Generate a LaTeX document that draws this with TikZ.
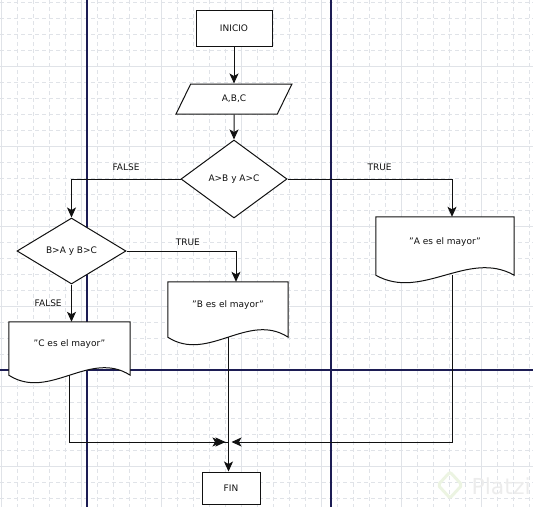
\documentclass[tikz,border=0pt]{standalone}
\usepackage{fontspec}
\setmainfont{DejaVu Sans}
\usetikzlibrary{shapes.geometric, arrows.meta, calc}
\definecolor{gridgray}{RGB}{224,227,232}
\definecolor{lanenavy}{RGB}{28,28,84}
\definecolor{textdark}{RGB}{17,17,17}
\definecolor{markgray}{RGB}{236,236,236}
\definecolor{markgreen}{RGB}{236,244,226}

\pgfdeclarelayer{grid}
\pgfdeclarelayer{outline}
\pgfsetlayers{grid,outline,main}

% document outline with a wavy bottom, drawn under the node text
\newcommand{\docoutline}[1]{%
  \begin{pgfonlayer}{outline}
    \draw[draw=textdark, fill=white, line width=1pt] (#1.south east) -- (#1.north east) -- (#1.north west) -- (#1.south west)
      .. controls ($(#1.south west)!0.333!(#1.south east)+(0,26)$) and ($(#1.south west)!0.667!(#1.south east)+(0,-26)$) .. (#1.south east) -- cycle;
  \end{pgfonlayer}}

\begin{document}
\begin{tikzpicture}[
    x=1pt, y=-1pt,
    every node/.style={font=\fontsize{9}{11}\selectfont, text=textdark},
    terminal/.style={rectangle, draw=textdark, fill=white, line width=1pt, minimum width=58pt, minimum height=32pt},
    inout/.style={trapezium, trapezium left angle=70, trapezium right angle=110, trapezium stretches=true, draw=textdark, fill=white, line width=1pt, minimum width=116pt, minimum height=30pt},
    decision/.style={diamond, draw=textdark, fill=white, line width=1pt, inner sep=0pt},
    document/.style={rectangle, inner sep=0pt, text depth=10pt},
    arrow/.style={-{Stealth[length=10pt, width=9pt, inset=2.5pt]}, line width=1pt, color=textdark},
    edgelabel/.style={font=\fontsize{9}{11}\selectfont, text=textdark}
]
\useasboundingbox (0,0) rectangle (533,507);

% Grid
\begin{pgfonlayer}{grid}
\foreach \gx in {1,17,...,529} \draw[gridgray, line width=0.6pt, dash pattern=on 4pt off 3pt] (\gx,0) -- (\gx,507);
\foreach \gy in {2,18,...,506} \draw[gridgray, line width=0.6pt, dash pattern=on 4pt off 3pt] (0,\gy) -- (533,\gy);
\foreach \gx in {1,81,...,481} \draw[gridgray, line width=0.6pt] (\gx,0) -- (\gx,507);
\foreach \gy in {66,146,...,466} \draw[gridgray, line width=0.6pt] (0,\gy) -- (533,\gy);

% Lanes
\draw[lanenavy, line width=1.2pt] (87,0) -- (87,507);
\draw[lanenavy, line width=1.2pt] (331,0) -- (331,507);
\draw[lanenavy, line width=1.2pt] (0,370) -- (533,370);

% Watermark
\draw[markgreen, line width=3pt, rounded corners=2pt] (450,472) -- (462,485) -- (450,498) -- (438,485) -- cycle;
\node[anchor=base west, text=markgray, font=\fontsize{22}{22}\selectfont] (brand) at (468,494) {Platzi};
\end{pgfonlayer}

% Start
\node[terminal, minimum width=76pt, minimum height=36pt] (start) at (234,28) {INICIO};

% Input
\node[inout] (abc) at (234,99) {A,B,C};

% Decisions
\node[decision, minimum width=106pt, minimum height=78pt] (cmpA) at (234,179) {A>B y A>C};
\node[decision, minimum width=109pt, minimum height=66pt] (cmpB) at (71.5,251) {B>A y B>C};

% Outputs
\node[document, minimum width=138pt, minimum height=58pt] (docA) at (445,246) {"A es el mayor"};
\node[document, minimum width=120pt, minimum height=55pt] (docB) at (228,309.5) {"B es el mayor"};
\node[document, minimum width=121pt, minimum height=53pt] (docC) at (69.5,348.5) {"C es el mayor"};
\docoutline{docA}
\docoutline{docB}
\docoutline{docC}

% End
\node[terminal] (finish) at (231,488) {FIN};
\coordinate (merge) at (228.5,442);

% Arrows
\draw[arrow] (start) -- (abc);
\draw[arrow] (abc) -- (cmpA);
\draw[arrow] (cmpA.west) -| node[pos=0.25, above=5pt, edgelabel] {FALSE} (cmpB.north);
\draw[arrow] (cmpA.east) -| node[pos=0.28, above=5pt, edgelabel] {TRUE} ([xshift=7pt]docA.north);
\draw[arrow] (cmpB.east) -| node[pos=0.28, above=2pt, edgelabel] {TRUE} ([xshift=8pt]docB.north);
\draw[arrow] (cmpB.south) -- node[left=6pt, edgelabel] {FALSE} (cmpB.south |- docC.north);

% Merge
\draw[arrow, shorten >=3pt] (docC.south) |- (merge);
\draw[arrow, shorten >=6pt] (docB.south) |- (merge);
\draw[arrow, shorten >=3pt] ([xshift=7pt]docA.south) |- (merge);
\draw[arrow] (merge) -- (merge |- finish.north);

\end{tikzpicture}
\end{document}
